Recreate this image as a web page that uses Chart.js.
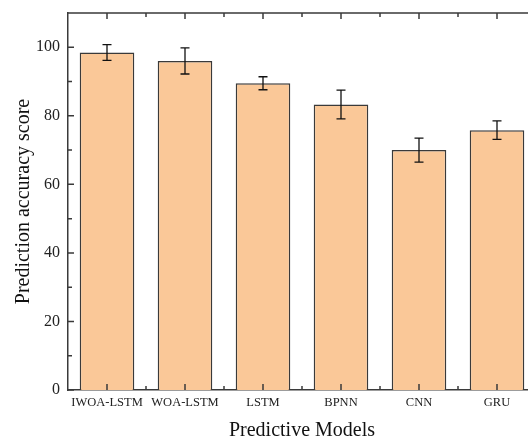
<!DOCTYPE html>
<html>
<head>
<meta charset="utf-8">
<script src="https://cdn.jsdelivr.net/npm/chart.js@4.4.1/dist/chart.umd.min.js"></script>
<style>
  html, body { margin: 0; padding: 0; background: #fff; overflow: hidden; }
  #wrap { width: 528px; height: 441px; overflow: hidden; }
</style>
</head>
<body>
<div id="wrap"><canvas id="chart" width="540" height="441"></canvas></div>
<script>
// data
const models = ['IWOA-LSTM', 'WOA-LSTM', 'LSTM', 'BPNN', 'CNN', 'GRU'];
const accuracy = [98.5, 96.0, 89.5, 83.3, 70.0, 75.8];
const errors = [2.3, 3.8, 1.9, 4.2, 3.5, 2.7];
const yTicks = [0, 20, 40, 60, 80, 100];
const yMinorTicks = [10, 30, 50, 70, 90, 110];

const serif = '"Liberation Serif", "Times New Roman", serif';
const ink = '#3a3a3a';

// error bars + inward ticks + top frame line
const extras = {
  id: 'extras',
  afterDatasetsDraw(chart) {
    const { ctx, chartArea: a, scales: { x, y } } = chart;
    ctx.save();
    ctx.strokeStyle = '#111';
    ctx.lineWidth = 1.3;
    accuracy.forEach((v, i) => {
      const px = x.getPixelForValue(i);
      const hi = y.getPixelForValue(v + errors[i]);
      const lo = y.getPixelForValue(v - errors[i]);
      ctx.beginPath();
      ctx.moveTo(px, hi); ctx.lineTo(px, lo);
      ctx.moveTo(px - 4.5, hi); ctx.lineTo(px + 4.5, hi);
      ctx.moveTo(px - 4.5, lo); ctx.lineTo(px + 4.5, lo);
      ctx.stroke();
    });

    ctx.strokeStyle = ink;
    ctx.lineWidth = 1.5;
    ctx.beginPath();
    // top frame
    ctx.moveTo(a.left, a.top); ctx.lineTo(a.right, a.top);
    // y ticks
    yTicks.forEach(t => {
      const py = y.getPixelForValue(t);
      ctx.moveTo(a.left, py); ctx.lineTo(a.left + 6, py);
    });
    yMinorTicks.forEach(t => {
      const py = y.getPixelForValue(t);
      ctx.moveTo(a.left, py); ctx.lineTo(a.left + 4, py);
    });
    // x ticks, bottom and top
    models.forEach((m, i) => {
      const px = x.getPixelForValue(i);
      ctx.moveTo(px, a.bottom); ctx.lineTo(px, a.bottom - 6);
      ctx.moveTo(px, a.top); ctx.lineTo(px, a.top + 6);
      const pb = x.getPixelForValue(i + 0.5);
      ctx.moveTo(pb, a.bottom); ctx.lineTo(pb, a.bottom - 4);
      ctx.moveTo(pb, a.top); ctx.lineTo(pb, a.top + 4);
    });
    ctx.stroke();
    ctx.restore();
  }
};

new Chart(document.getElementById('chart'), {
  type: 'bar',
  data: {
    labels: models,
    datasets: [{
      data: accuracy,
      backgroundColor: '#FAC898',
      borderColor: ink,
      borderWidth: 1.5,
      barPercentage: 0.7,
      categoryPercentage: 1.0,
    }],
  },
  plugins: [extras],
  options: {
    responsive: false,
    animation: false,
    layout: { padding: { top: 13, right: 4, left: 0, bottom: 0 } },
    plugins: {
      legend: { display: false },
      tooltip: { enabled: false },
    },
    scales: {
      x: {
        afterFit: (scale) => {
          scale.height = 51;
          scale.paddingLeft = 0;
          scale.paddingRight = 0;
        },
        grid: { display: false, drawTicks: false },
        border: { display: true, color: ink, width: 1.5 },
        ticks: {
          color: '#222',
          font: { family: serif, size: 12.5 },
          padding: 5,
          maxRotation: 0,
          autoSkip: false,
        },
        title: {
          display: true,
          text: 'Predictive Models',
          color: '#111',
          font: { family: serif, size: 20 },
          padding: { top: 7, bottom: -2 },
        },
      },
      y: {
        min: 0,
        max: 110,
        afterBuildTicks: (scale) => { scale.ticks = yTicks.map(v => ({ value: v })); },
        afterFit: (scale) => {
          scale.width = 68;
          scale.paddingTop = 0;
          scale.paddingBottom = 0;
        },
        grid: { display: false, drawTicks: false },
        border: { display: true, color: ink, width: 1.5 },
        ticks: {
          color: '#222',
          font: { family: serif, size: 16 },
          padding: 8,
        },
        title: {
          display: true,
          text: 'Prediction accuracy score',
          color: '#111',
          font: { family: serif, size: 20 },
          padding: { top: 12, bottom: 0 },
        },
      },
    },
  },
});
</script>
</body>
</html>
